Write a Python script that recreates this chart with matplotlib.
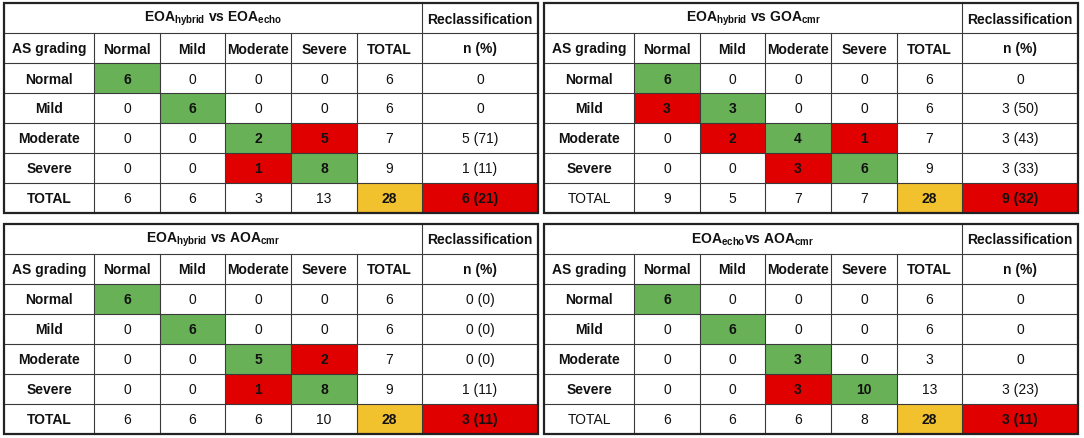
import matplotlib
matplotlib.use("Agg")
import matplotlib.pyplot as plt
from matplotlib.patches import Rectangle

plt.rcParams['font.family'] = ['Liberation Sans', 'DejaVu Sans']
plt.rcParams['mathtext.fontset'] = 'custom'
plt.rcParams['mathtext.rm'] = 'Liberation Sans'
plt.rcParams['mathtext.bf'] = 'Liberation Sans:bold'

# ---- data ----
grades = ["Normal", "Mild", "Moderate", "Severe"]

titles = [
    r"$\mathbf{EOA}_{\mathbf{hybrid}}$ vs $\mathbf{EOA}_{\mathbf{echo}}$",
    r"$\mathbf{EOA}_{\mathbf{hybrid}}$ vs $\mathbf{GOA}_{\mathbf{cmr}}$",
    r"$\mathbf{EOA}_{\mathbf{hybrid}}$ vs $\mathbf{AOA}_{\mathbf{cmr}}$",
    r"$\mathbf{EOA}_{\mathbf{echo}}$vs $\mathbf{AOA}_{\mathbf{cmr}}$",
]

counts_1 = [[6, 0, 0, 0], [0, 6, 0, 0], [0, 0, 2, 5], [0, 0, 1, 8]]
counts_2 = [[6, 0, 0, 0], [3, 3, 0, 0], [0, 2, 4, 1], [0, 0, 3, 6]]
counts_3 = [[6, 0, 0, 0], [0, 6, 0, 0], [0, 0, 5, 2], [0, 0, 1, 8]]
counts_4 = [[6, 0, 0, 0], [0, 6, 0, 0], [0, 0, 3, 0], [0, 0, 3, 10]]

row_totals = [[6, 6, 7, 9], [6, 6, 7, 9], [6, 6, 7, 9], [6, 6, 3, 13]]
col_totals = [[6, 6, 3, 13], [9, 5, 7, 7], [6, 6, 6, 10], [6, 6, 6, 8]]
grand_total = [28, 28, 28, 28]

reclass = [
    ["0", "0", "5 (71)", "1 (11)", "6 (21)"],
    ["0", "3 (50)", "3 (43)", "3 (33)", "9 (32)"],
    ["0 (0)", "0 (0)", "0 (0)", "1 (11)", "3 (11)"],
    ["0", "0", "0", "3 (23)", "3 (11)"],
]
total_label_bold = [True, False, True, False]

all_counts = [counts_1, counts_2, counts_3, counts_4]

# ---- style ----
GREEN = "#68b156"
RED = "#e00000"
YELLOW = "#f2c12e"
LINE = "#3a3a3a"
col_w = [90, 66, 65, 66, 66, 65, 116]
row_h = 30
origins = [(4, 4), (544, 4), (4, 225), (544, 225)]
FS = 10

fig = plt.figure(figsize=(10.84, 4.39), dpi=100)
ax = fig.add_axes([0, 0, 1, 1])
ax.set_xlim(0, 1084)
ax.set_ylim(439, 0)
ax.axis('off')

header = ["AS grading"] + grades + ["TOTAL", "n (%)"]


def draw_table(k):
    x0, y0 = origins[k]
    xs = [x0]
    for w in col_w:
        xs.append(xs[-1] + w)
    ys = [y0 + i * row_h for i in range(8)]
    counts = all_counts[k]

    def cell(c, r, txt, color=None, bold=False):
        if color is not None:
            ax.add_patch(Rectangle((xs[c], ys[r]), xs[c + 1] - xs[c], row_h,
                                   facecolor=color, edgecolor='none', zorder=1))
        ax.text((xs[c] + xs[c + 1]) / 2, ys[r] + row_h / 2 + 0.5, txt,
                ha='center', va='center', fontsize=FS,
                fontweight='bold' if bold else 'normal', color='#111111', zorder=3)

    # title row
    ax.text((xs[0] + xs[6]) / 2, ys[0] + row_h / 2, titles[k], ha='center',
            va='center', fontsize=FS, fontweight='bold', color='#111111', zorder=3)
    cell(6, 0, "Reclassification", bold=True)
    # header row
    for c, h in enumerate(header):
        cell(c, 1, h, bold=True)
    # body
    for i in range(4):
        r = i + 2
        cell(0, r, grades[i], bold=True)
        for j in range(4):
            v = counts[i][j]
            if i == j:
                cell(j + 1, r, str(v), GREEN, True)
            elif v != 0:
                cell(j + 1, r, str(v), RED, True)
            else:
                cell(j + 1, r, str(v))
        cell(5, r, str(row_totals[k][i]))
        cell(6, r, reclass[k][i])
    # total row
    cell(0, 6, "TOTAL", bold=total_label_bold[k])
    for j in range(4):
        cell(j + 1, 6, str(col_totals[k][j]))
    cell(5, 6, str(grand_total[k]), YELLOW, True)
    cell(6, 6, reclass[k][4], RED, True)

    # grid lines
    for y in ys[1:-1]:
        ax.plot([xs[0], xs[-1]], [y, y], color=LINE, lw=0.8, zorder=2)
    for c, x in enumerate(xs[1:-1], start=1):
        top = ys[0] if c == 6 else ys[1]
        ax.plot([x, x], [top, ys[-1]], color=LINE, lw=0.8, zorder=2)
    ax.add_patch(Rectangle((xs[0], ys[0]), xs[-1] - xs[0], ys[-1] - ys[0],
                           facecolor='none', edgecolor='#222222', lw=1.6, zorder=4))


for k in range(4):
    draw_table(k)

fig.savefig("out.png", dpi=100, facecolor='white')
